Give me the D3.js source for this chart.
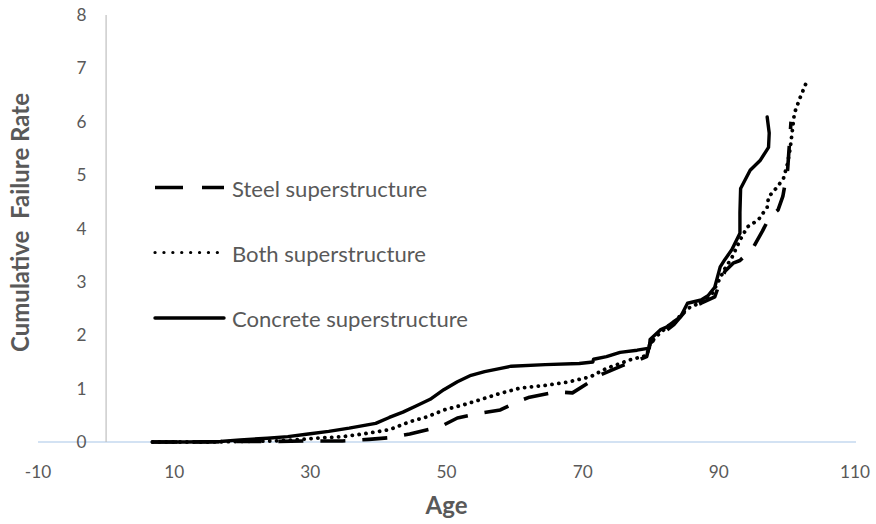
<!DOCTYPE html>
<html><head><meta charset="utf-8">
<script src="https://cdn.jsdelivr.net/npm/d3@7"></script>
<style>
body{margin:0;background:#fff;}
svg text{font-family:Lato,"Open Sans",sans-serif;fill:#595959;}
</style></head>
<body><svg id="chart" width="876" height="524"></svg>
<script>
const xTicks = [-10, 10, 30, 50, 70, 90, 110];
const yTicks = [0, 1, 2, 3, 4, 5, 6, 7, 8];
const seriesNames = ["Steel superstructure", "Both superstructure", "Concrete superstructure"];

const steelAge = [6.8,14.8,19.7,24.7,29.7,34.7,38.6,41.6,44.6,47.6,49.6,51.6,54.9,57.9,60.3,62.2,66.2,68.5,71.5,72.5,76,77.5,79.4,79.9,81.4,83.4,85.4,87.4,89.4,89.9,90.9,92.1,93.1,95,96.4,97.4,98.7,99.4,100.1,100.6];
const steelVal = [0,0,0.01,0.01,0.02,0.02,0.05,0.08,0.15,0.24,0.32,0.45,0.54,0.6,0.75,0.84,0.94,0.92,1.16,1.25,1.44,1.5,1.6,1.85,2.0,2.2,2.5,2.6,2.72,2.9,3.2,3.35,3.4,3.63,3.95,4.2,4.35,4.6,5.1,6.0];

const bothAge = [6.8,14.8,19.7,24.7,27.7,30.7,34.7,37.7,41.6,44.6,47.1,49.6,52.6,54.9,57.6,60.8,64.5,67.7,71.1,73.5,77,79.4,79.9,81.4,83.4,85.4,87.4,88.9,89.9,90.9,91.9,93.1,94.2,95.8,97.1,97.3,98.6,99.5,100.1,100.5,101.1,101.9,102.8];
const bothVal = [0,0,0.01,0.02,0.04,0.07,0.1,0.15,0.23,0.38,0.47,0.6,0.7,0.79,0.9,1.01,1.06,1.12,1.22,1.38,1.54,1.62,1.85,2.05,2.25,2.5,2.62,2.75,3.0,3.25,3.45,3.78,4.03,4.16,4.40,4.59,4.78,4.94,5.22,5.52,6.16,6.44,6.72];

const concAge = [6.8,11.8,16.8,19.7,23.7,26.7,29.7,32.7,35.7,39.6,41.6,43.6,45.6,47.6,49.6,51.6,53.6,55.6,57.6,59.5,64.5,69.5,71.5,71.6,73.5,75.5,78,79.8,79.9,81.4,82.4,84.4,85.4,87.4,88.4,89.4,90.2,90.9,91.9,93.1,93.1,93.2,94.6,96.1,97.3,97.4,97.1];
const concVal = [0,0,0.01,0.04,0.07,0.1,0.15,0.2,0.26,0.35,0.46,0.56,0.68,0.8,0.98,1.13,1.25,1.32,1.37,1.42,1.45,1.47,1.5,1.55,1.6,1.68,1.72,1.76,1.92,2.1,2.16,2.35,2.6,2.66,2.74,2.9,3.28,3.42,3.6,3.91,4.3,4.75,5.09,5.28,5.52,5.79,6.09];

const svg = d3.select("#chart");
const x = d3.scaleLinear().domain([-10, 110]).range([38, 855]);
const y = d3.scaleLinear().domain([0, 8]).range([442, 15]);

function fit(sel, target) {
  const len = sel.node().getComputedTextLength();
  const fs = parseFloat(sel.style("font-size"));
  return fs * target / len;
}

// x axis line at y=0
svg.append("line").attr("x1", x(-10)).attr("x2", x(110) + 1).attr("y1", y(0)).attr("y2", y(0))
  .attr("stroke", "#c5d9ef").attr("stroke-width", 1.5);
// y axis line at x=0
svg.append("line").attr("x1", x(0)).attr("x2", x(0)).attr("y1", y(0)).attr("y2", y(8))
  .attr("stroke", "#bfbfbf").attr("stroke-width", 1.2);

// tick labels
const xt = svg.append("g").selectAll("text").data(xTicks).join("text")
  .attr("x", d => x(d)).attr("y", 478).attr("text-anchor", "middle")
  .style("font-size", "18px").text(d => d);
const tickSize = fit(xt.filter(d => d === 110), 30);
xt.style("font-size", tickSize + "px");
svg.append("g").selectAll("text").data(yTicks).join("text")
  .attr("x", 86.5).attr("y", d => y(d) + 6).attr("text-anchor", "end")
  .style("font-size", tickSize + "px").text(d => d);

// titles
const yt = svg.append("text").attr("transform", "translate(29,222.5) rotate(-90)").attr("text-anchor", "middle")
  .style("font-size", "20px").style("font-weight", "bold").style("white-space", "pre")
  .text("Cumulative  Failure Rate");
const titleSize = fit(yt, 259);
yt.style("font-size", titleSize + "px");
svg.append("text").attr("x", x(50)).attr("y", 514).attr("text-anchor", "middle")
  .style("font-size", titleSize + "px").style("font-weight", "bold").text("Age");

const styles = [
  {dash: "25,17", cap: "butt", w: 3.6},
  {dash: "0.1,6.8", cap: "round", w: 3.8},
  {dash: null, cap: "round", w: 3.4}
];
const series = [
  d3.zip(steelAge, steelVal),
  d3.zip(bothAge, bothVal),
  d3.zip(concAge, concVal)
];
const line = d3.line().x(d => x(d[0])).y(d => y(d[1]));
series.forEach((s, i) => {
  svg.append("path").attr("d", line(s)).attr("fill", "none").attr("stroke", "#000")
    .attr("stroke-width", styles[i].w).attr("stroke-linecap", styles[i].cap)
    .attr("stroke-linejoin", "round")
    .attr("stroke-dasharray", styles[i].dash);
});

// legend
const legY = [187.5, 252.5, 318];
const legTexts = [];
seriesNames.forEach((n, i) => {
  svg.append("line").attr("x1", 155).attr("x2", i === 1 ? 219 : 224).attr("y1", legY[i]).attr("y2", legY[i])
    .attr("stroke", "#000").attr("stroke-width", i === 1 ? 3.2 : styles[i].w)
    .attr("stroke-linecap", styles[i].cap)
    .attr("stroke-dasharray", i === 1 ? "0.1,8.8" : (i === 0 ? "28,19" : null));
  legTexts.push(svg.append("text").attr("x", 232).attr("y", legY[i] + 9).style("font-size", "20px").text(n));
});
const legSize = fit(legTexts[2], 236);
legTexts.forEach(t => t.style("font-size", legSize + "px"));
</script></body></html>
